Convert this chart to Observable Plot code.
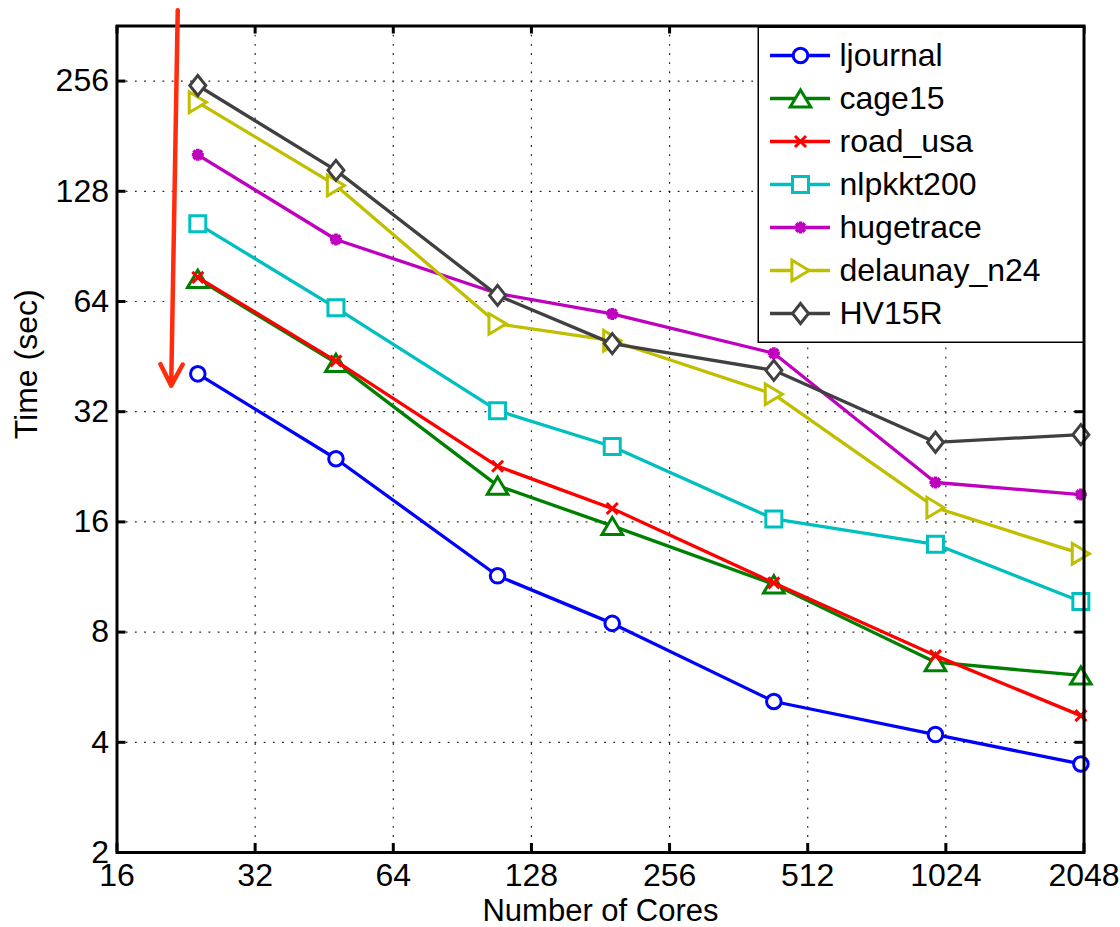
<!DOCTYPE html>
<html>
<head>
<meta charset="utf-8">
<script src="https://cdn.jsdelivr.net/npm/d3@7"></script>
<script src="https://cdn.jsdelivr.net/npm/@observablehq/plot@0.6"></script>
<style>
  html, body { margin: 0; padding: 0; background: #fff; }
  #wrap { position: relative; width: 1120px; height: 927px; }
  #wrap svg { display: block; }
  #legend { position: absolute; }
</style>
</head>
<body>
<div id="wrap"></div>
<script>
// ---------------- data ----------------
const cores = [24, 48, 108, 192, 432, 972, 2016];
const seriesNames = ["ljournal", "cage15", "road_usa", "nlpkkt200", "hugetrace", "delaunay_n24", "HV15R"];
const ljournal    = [40.6, 23.8, 11.4, 8.45, 5.17, 4.2, 3.49];
const cage15      = [73.8, 43.5, 20.1, 15.6, 10.8, 6.62, 6.09];
const road_usa    = [74.5, 44.0, 22.7, 17.4, 10.9, 6.9, 4.73];
const nlpkkt200   = [104.3, 61.5, 32.2, 25.7, 16.3, 13.9, 9.7];
const hugetrace   = [161, 94.5, 67.3, 59.2, 46.2, 20.5, 19.0];
const delaunay_n24 = [224, 132.8, 55.6, 50.0, 35.7, 17.5, 13.1];
const HV15R       = [249, 146, 66.5, 49.1, 41.5, 26.4, 27.7];
const xTicks = [16, 32, 64, 128, 256, 512, 1024, 2048];
const yTicks = [2, 4, 8, 16, 32, 64, 128, 256];
const xLabel = "Number of Cores";
const yLabel = "Time (sec)";
// annotation arrow (cores, seconds): start, end
const arrowCores = [21.7, 21.0];
const arrowTime  = [400, 37.7];

// ---------------- styles ----------------
const W = 1120, H = 927;
const mL = 116.5, mR = 36.5, mT = 25.5, mB = 75;
const frameW = W - mL - mR, frameH = H - mT - mB;
const FONT = "'Liberation Sans', Arial, Helvetica, sans-serif";

function sym(fn) { return { draw(ctx, size) { fn(ctx, Math.sqrt(size / Math.PI)); } }; }
const circleSym = sym((c, r) => { c.moveTo(r, 0); c.arc(0, 0, r, 0, 2 * Math.PI); c.closePath(); });
const squareSym = sym((c, r) => { c.rect(-r, -r, 2 * r, 2 * r); });
const triUpSym = sym((c, r) => { c.moveTo(0, -r); c.lineTo(1.2 * r, r); c.lineTo(-1.2 * r, r); c.closePath(); });
const triRightSym = sym((c, r) => { c.moveTo(r, 0); c.lineTo(-r, 1.2 * r); c.lineTo(-r, -1.2 * r); c.closePath(); });
const diamondSym = sym((c, r) => { c.moveTo(0, -r); c.lineTo(0.8 * r, 0); c.lineTo(0, r); c.lineTo(-0.8 * r, 0); c.closePath(); });
const timesSym = sym((c, r) => { c.moveTo(-r, -r); c.lineTo(r, r); c.moveTo(-r, r); c.lineTo(r, -r); });
const starSym = sym((c, r) => {
  c.moveTo(-r, 0); c.lineTo(r, 0); c.moveTo(0, -r); c.lineTo(0, r);
  const d = r * 0.72; c.moveTo(-d, -d); c.lineTo(d, d); c.moveTo(-d, d); c.lineTo(d, -d);
});

const seriesValues = [ljournal, cage15, road_usa, nlpkkt200, hugetrace, delaunay_n24, HV15R];
const seriesStyle = [
  { color: "#0000ff", symbol: circleSym, r: 7.3, sw: 3 },
  { color: "#008000", symbol: triUpSym, r: 8.6, sw: 3 },
  { color: "#ff0000", symbol: timesSym, r: 5.5, sw: 3 },
  { color: "#00bfbf", symbol: squareSym, r: 8, sw: 3 },
  { color: "#bf00bf", symbol: starSym, r: 6, sw: 3.6 },
  { color: "#bfbf00", symbol: triRightSym, r: 8.6, sw: 3 },
  { color: "#404040", symbol: diamondSym, r: 10, sw: 3 }
];

const series = seriesNames.map((name, k) => ({
  name,
  ...seriesStyle[k],
  rows: cores.map((c, i) => ({ cores: c, time: seriesValues[k][i] }))
}));

const tickStyle = { stroke: "#000", strokeWidth: 3 };
const gridStyle = { stroke: "#000", strokeOpacity: 0.85, strokeWidth: 1.2, strokeDasharray: "1.8,7.4" };

const marks = [
  Plot.gridX(xTicks.slice(1, -1), gridStyle),
  Plot.gridY(yTicks.slice(1), gridStyle),
  Plot.ruleX(xTicks, { ...tickStyle, insetTop: frameH - 9 }),
  Plot.ruleX(xTicks, { ...tickStyle, insetBottom: frameH - 8 }),
  Plot.ruleY(yTicks, { ...tickStyle, insetRight: frameW - 9 }),
  Plot.ruleY(yTicks, { ...tickStyle, insetLeft: frameW - 9 })
];
for (const s of series) {
  marks.push(Plot.line(s.rows, { x: "cores", y: "time", stroke: s.color, strokeWidth: 3.3, strokeLinejoin: "miter" }));
  marks.push(Plot.dot(s.rows, { x: "cores", y: "time", symbol: s.symbol, r: s.r, fill: "white", stroke: s.color, strokeWidth: s.sw }));
}
marks.push(
  Plot.frame({ stroke: "#000", strokeWidth: 3 }),
  Plot.axisX(xTicks, { tickSize: 0, tickPadding: 11, tickFormat: d => String(d), label: null, fontSize: 32 }),
  Plot.axisY(yTicks, { tickSize: 0, tickPadding: 8, tickFormat: d => String(d), label: null, fontSize: 32 }),
  Plot.text([xLabel], { text: d => d, frameAnchor: "bottom", dy: 58.5, lineAnchor: "middle", fontSize: 31, fill: "#000" }),
  Plot.text([yLabel], { text: d => d, frameAnchor: "left", dx: -90, rotate: -90, lineAnchor: "middle", fontSize: 32, fill: "#000" }),
  Plot.arrow([0], {
    x1: () => arrowCores[0], y1: () => arrowTime[0],
    x2: () => arrowCores[1], y2: () => arrowTime[1],
    stroke: "#ff2d0d", strokeWidth: 4.5, headLength: 8, headAngle: 55
  })
);

const chart = Plot.plot({
  width: W, height: H,
  marginLeft: mL, marginRight: mR, marginTop: mT, marginBottom: mB,
  x: { type: "log", base: 2, domain: [16, 2048] },
  y: { type: "log", base: 2, domain: [2, 362] },
  style: { fontFamily: FONT, fontSize: "32px", color: "#000", background: "#fff", overflow: "visible" },
  marks
});

// ---------------- legend (inside the axes, top-right) ----------------
const legW = mL + frameW - 757, legH = 342 - mT;
const legMarks = [Plot.frame({ fill: "white", stroke: "#000", strokeWidth: 1.5, inset: 0.75 })];
series.forEach(s => {
  legMarks.push(Plot.tickY([s.name], { y: d => d, stroke: s.color, strokeWidth: 3.3, insetLeft: 13, insetRight: legW - 73 }));
  legMarks.push(Plot.dot([s.name], { y: d => d, frameAnchor: "left", dx: 43, symbol: s.symbol, r: s.r, fill: "white", stroke: s.color, strokeWidth: s.sw }));
});
legMarks.push(Plot.text(seriesNames, { y: d => d, text: d => d, frameAnchor: "left", dx: 82, textAnchor: "start", lineAnchor: "middle", fontSize: 32, fill: "#000" }));

const legend = Plot.plot({
  width: legW, height: legH, margin: 0,
  y: { type: "point", domain: seriesNames, range: [26.2, 289.5], padding: 0, axis: null },
  style: { fontFamily: FONT, fontSize: "32px", color: "#000", overflow: "visible" },
  marks: legMarks
});
legend.id = "legend";
legend.style.left = "757px";
legend.style.top = mT + "px";

const wrap = document.getElementById("wrap");
wrap.appendChild(chart);
wrap.appendChild(legend);
</script>
</body>
</html>
